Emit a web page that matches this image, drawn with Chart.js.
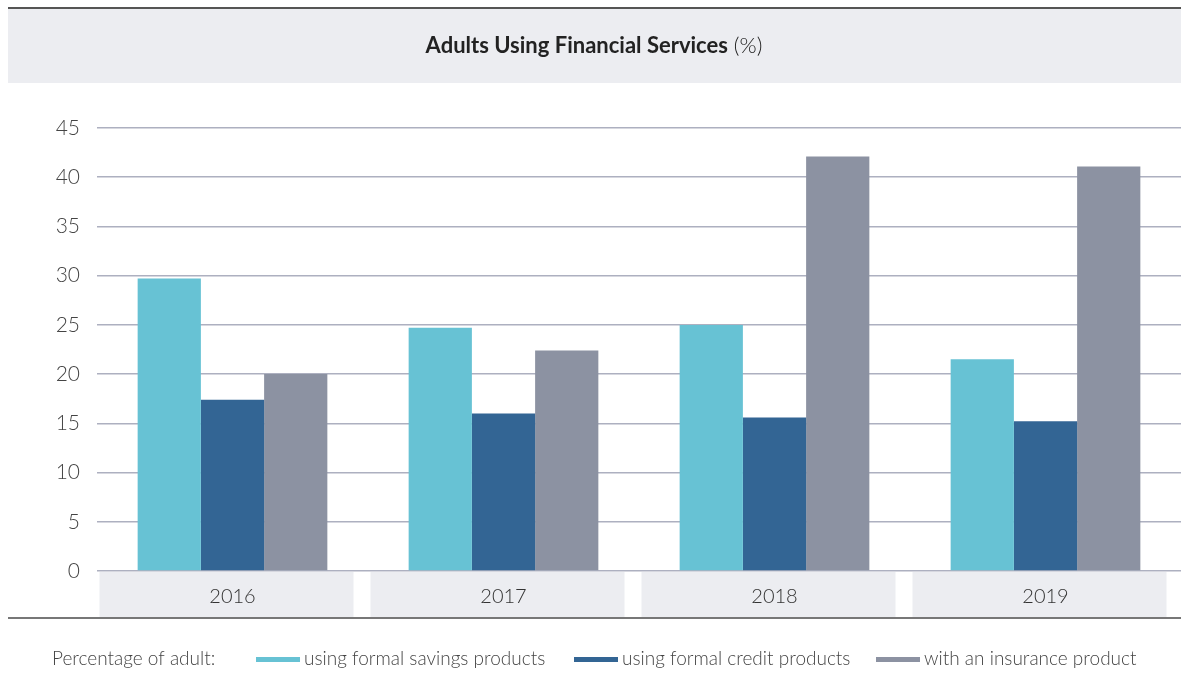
<!DOCTYPE html>
<html>
<head>
<meta charset="utf-8">
<script src="https://cdn.jsdelivr.net/npm/chart.js@4/dist/chart.umd.min.js"></script>
<style>
  html, body { margin: 0; padding: 0; background: #fff; }
  #wrap { width: 1181px; height: 673px; position: relative; }
</style>
</head>
<body>
<div id="wrap"><canvas id="bar-chart" width="1181" height="673"></canvas></div>
<script>
// data
var years = ["2016", "2017", "2018", "2019"];
var savings = [29.7, 24.7, 25.0, 21.5];
var credit = [17.4, 16.0, 15.6, 15.2];
var insurance = [20.0, 22.4, 42.1, 41.1];
var seriesNames = ["using formal savings products", "using formal credit products", "with an insurance product"];
var yTicks = [0, 5, 10, 15, 20, 25, 30, 35, 40, 45];

var colors = ["#67c2d4", "#336594", "#8c92a2"];
var fontName = "Lato, 'Open Sans', sans-serif";

// title band, category boxes, frame lines and legend
var decor = {
  id: 'decor',
  beforeDraw: function (chart) {
    var ctx = chart.ctx;
    var w = chart.width;
    ctx.save();
    // title band
    ctx.fillStyle = "#ecedf1";
    ctx.fillRect(8, 9, w - 8, 74);
    ctx.fillStyle = "#555";
    ctx.fillRect(8, 7, w - 8, 2);

    // boxes behind the year labels
    var x = chart.scales.x;
    var area = chart.chartArea;
    ctx.fillStyle = "#ecedf1";
    years.forEach(function (y, i) {
      var c = x.getPixelForValue(i);
      ctx.fillRect(c - 133, area.bottom + 1, 254, 46);
    });
    ctx.fillStyle = "#777";
    ctx.fillRect(8, area.bottom + 46, w - 8, 2);
    ctx.restore();
  },
  afterDraw: function (chart) {
    var ctx = chart.ctx;
    ctx.save();
    // title
    var bold = "bold 22px " + fontName;
    var normal = "300 22px " + fontName;
    var t1 = "Adults Using Financial Services";
    var t2 = " (%)";
    ctx.font = bold;
    var w1 = ctx.measureText(t1).width;
    ctx.font = normal;
    var w2 = ctx.measureText(t2).width;
    var sx = 594 - (w1 + w2) / 2;
    ctx.textBaseline = "middle";
    ctx.fillStyle = "#222";
    ctx.font = bold;
    ctx.fillText(t1, sx, 46);
    ctx.font = normal;
    ctx.fillText(t2, sx + w1, 46);

    // legend
    var ly = 659;
    ctx.font = "300 19px " + fontName;
    ctx.fillStyle = "#444";
    ctx.fillText("Percentage of adult:", 52, ly);
    var lx = [256, 574, 876];
    seriesNames.forEach(function (name, i) {
      ctx.fillStyle = colors[i];
      ctx.fillRect(lx[i], ly - 2, 44, 5);
      ctx.fillStyle = "#444";
      ctx.fillText(name, lx[i] + 48, ly);
    });
    ctx.restore();
  }
};

new Chart(document.getElementById("bar-chart"), {
  type: 'bar',
  data: {
    labels: years,
    datasets: [
      { label: seriesNames[0], data: savings, backgroundColor: colors[0] },
      { label: seriesNames[1], data: credit, backgroundColor: colors[1] },
      { label: seriesNames[2], data: insurance, backgroundColor: colors[2] }
    ]
  },
  options: {
    responsive: false,
    animation: false,
    categoryPercentage: 0.7,
    barPercentage: 1.0,
    layout: { padding: { top: 128, bottom: 54, left: 0, right: 0 } },
    plugins: {
      legend: { display: false },
      title: { display: false },
      tooltip: { enabled: false }
    },
    scales: {
      x: {
        grid: { display: false, drawTicks: false },
        border: { display: false },
        ticks: { color: "#333", font: { family: fontName, size: 20, weight: 300 }, padding: 14 },
        afterFit: function (scale) { scale.height = 48; }
      },
      y: {
        min: 0,
        max: 45,
        afterBuildTicks: function (scale) {
          scale.ticks = yTicks.map(function (v) { return { value: v }; });
        },
        grid: { color: "#adb0c0", lineWidth: 1.5, drawTicks: false },
        border: { display: false },
        ticks: { color: "#444", font: { family: fontName, size: 21, weight: 300 }, padding: 17 },
        afterFit: function (scale) { scale.width = 97; }
      }
    }
  },
  plugins: [decor]
});
</script>
</body>
</html>
